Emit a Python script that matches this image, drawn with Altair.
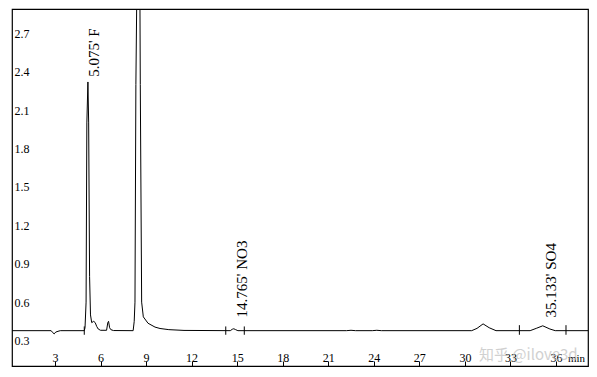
import altair as alt
import pandas as pd

# Chromatogram trace (retention time in min, signal)
trace_t = [0.17, 2.75, 2.85, 2.95, 3.05, 3.2, 3.35, 4.93, 4.98, 5.05, 5.10, 5.17, 5.22, 5.28, 5.34,
           5.42, 5.55, 5.65, 5.75, 5.85, 6.0, 6.40, 6.48, 6.53, 6.60, 6.68, 6.85,
           8.15, 8.22, 8.27, 8.33, 8.38, 8.45, 8.52, 8.60, 8.62, 8.71, 8.82, 9.13, 9.59, 9.92,
           10.5, 11.5, 14.55, 14.68, 14.78, 14.9, 15.05, 22.2, 22.5, 22.8, 23.9, 24.2, 24.5,
           30.45, 30.8, 31.2, 31.6, 32.05, 34.3, 34.7, 35.13, 35.6, 35.95, 38.11]
trace_v = [0.377, 0.377, 0.362, 0.352, 0.366, 0.372, 0.377, 0.377, 0.40, 0.60, 2.00, 2.32, 2.00, 0.80, 0.50,
           0.44, 0.45, 0.44, 0.41, 0.39, 0.38, 0.38, 0.44, 0.45, 0.40, 0.385, 0.378,
           0.377, 0.45, 0.60, 2.30, 2.89, 3.80, 3.80, 2.89, 2.30, 0.60, 0.485, 0.435, 0.405, 0.394,
           0.385, 0.379, 0.377, 0.388, 0.392, 0.385, 0.377, 0.377, 0.380, 0.377, 0.377, 0.380, 0.377,
           0.377, 0.395, 0.43, 0.40, 0.377, 0.377, 0.395, 0.415, 0.39, 0.377, 0.377]

# Integration markers
marker_t = [4.93, 14.25, 15.47, 33.59, 36.66]
marker_lo = [0.345, 0.345, 0.345, 0.345, 0.345]
marker_hi = [0.41, 0.41, 0.41, 0.42, 0.42]

# Peak annotations
ann_t = [5.075, 14.765, 35.133]
ann_v = [2.36, 0.48, 0.48]
ann_text = ["5.075' F", "14.765' NO3", "35.133' SO4"]

x_ticks = [3, 6, 9, 12, 15, 18, 21, 24, 27, 30, 33, 36]
y_ticks = [0.3, 0.6, 0.9, 1.2, 1.5, 1.8, 2.1, 2.4, 2.7]

W, H = 576, 357
FONT = "Liberation Serif"

trace = pd.DataFrame({"t": trace_t, "v": trace_v})
markers = pd.DataFrame({"t": marker_t, "lo": marker_lo, "hi": marker_hi})
ann = pd.DataFrame({"t": ann_t, "v": ann_v, "label": ann_text})

xs = alt.Scale(domain=[0.17, 38.11], nice=False, zero=False)
ys = alt.Scale(domain=[0.101, 2.89], nice=False, zero=False)

x_axis = alt.Axis(orient="top", offset=-H, values=x_ticks, tickSize=5, tickColor="black",
                  labelPadding=-3, labelFont=FONT, labelFontSize=12, labelColor="black",
                  domain=False, grid=False, title="min", titleFont=FONT, titleFontSize=11,
                  titleFontWeight="normal", titleColor="black", titleX=564, titleY=-8,
                  titleAlign="center", titleBaseline="middle", titleAngle=0)
y_axis = alt.Axis(orient="left", values=y_ticks, ticks=False, tickSize=0, labelAlign="left",
                  labelPadding=-2, labelFont=FONT, labelFontSize=12, labelColor="black",
                  format=".1f", domain=False, grid=False, title=None)

line = alt.Chart(trace).mark_line(color="black", strokeWidth=1, clip=True).encode(
    x=alt.X("t:Q", scale=xs, axis=x_axis),
    y=alt.Y("v:Q", scale=ys, axis=y_axis),
)

rules = alt.Chart(markers).mark_rule(color="black", strokeWidth=1).encode(
    x=alt.X("t:Q", scale=xs),
    y=alt.Y("lo:Q", scale=ys),
    y2="hi:Q",
)

labels = alt.Chart(ann).mark_text(angle=270, align="left", baseline="middle", dy=8,
                                  font=FONT, fontSize=15, color="black").encode(
    x=alt.X("t:Q", scale=xs),
    y=alt.Y("v:Q", scale=ys),
    text="label:N",
)

watermark = alt.Chart(pd.DataFrame({"w": ["知乎 @ilove3d"]})).mark_text(
    align="left", baseline="middle", font="Noto Sans CJK SC", fontSize=15,
    color="#bdbdbd", opacity=0.7).encode(
    x=alt.value(467), y=alt.value(346), text="w:N")

chart = (line + rules + labels + watermark).properties(
    width=W, height=H,
    autosize=alt.AutoSizeParams(type="none"),
    padding={"left": 12, "top": 9, "right": 9, "bottom": 11},
    background="white",
).configure_view(stroke="black", strokeWidth=1.2)

chart.save("out.html", embed_options={"renderer": "svg", "actions": False})
